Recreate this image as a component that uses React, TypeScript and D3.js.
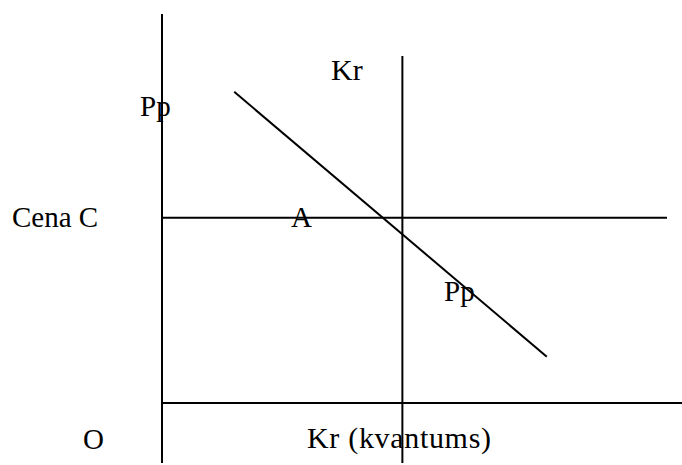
import React from "react";
import * as d3 from "d3";

// Conceptual values (quantity on x, price on y)
const priceLevelC = 47.6;
const quantityKr = 47.6;
const krTop = 89.2;
const axisTop = 100;
const axisBottom = -15.4;
const priceLineEnd = 100;
const baseLineEnd = 103;
const demandPp: [number, number][] = [
  [14.3, 80.0],
  [76.2, 11.9],
];
const labelTexts = ["Kr", "Pp", "Cena C", "A", "Pp", "O", "Kr (kvantums)"];

const W = 682;
const H = 465;

// label layout (pixel anchors, size, optional stretched length)
const labelLayout: { x: number; y: number; size: number; len?: number }[] = [
  { x: 331, y: 80, size: 30 },
  { x: 140, y: 116, size: 29 },
  { x: 12, y: 227, size: 29 },
  { x: 291, y: 227, size: 29 },
  { x: 444, y: 301, size: 29 },
  { x: 83, y: 449, size: 29 },
  { x: 307, y: 448, size: 30, len: 184 },
];

export default function App() {
  const x = d3.scaleLinear().domain([0, 100]).range([162, 667]);
  const y = d3.scaleLinear().domain([0, 100]).range([403, 14]);
  const line = d3
    .line<[number, number]>()
    .x((d) => x(d[0]))
    .y((d) => y(d[1]));

  const segs: [number, number][][] = [
    [[0, axisTop], [0, axisBottom]],
    [[quantityKr, krTop], [quantityKr, axisBottom]],
    [[0, priceLevelC], [priceLineEnd, priceLevelC]],
    [[0, 0], [baseLineEnd, 0]],
    demandPp,
  ];

  return (
    <svg
      width={W}
      height={H}
      style={{ position: "absolute", left: 0, top: 0, background: "#fff" }}
    >
      {segs.map((s, i) => (
        <path key={i} d={line(s) || ""} stroke="#000" strokeWidth={2} fill="none" />
      ))}
      {labelTexts.map((t, i) => {
        const l = labelLayout[i];
        return (
          <text
            key={i}
            x={l.x}
            y={l.y}
            fontFamily="'Liberation Serif', 'Times New Roman', serif"
            fontSize={l.size}
            fill="#000"
            {...(l.len ? { textLength: l.len, lengthAdjust: "spacing" } : {})}
          >
            {t}
          </text>
        );
      })}
    </svg>
  );
}
